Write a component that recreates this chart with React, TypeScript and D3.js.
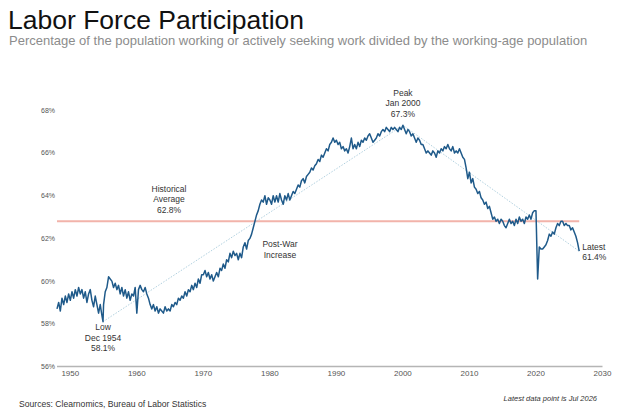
import React from 'react'
import * as d3 from 'd3'

// quarterly readings (Jan, Apr, Jul, Oct), participation rate in %
const q1940s = [58.7, 59.0, 58.6, 59.2, 58.9, 59.3, 59.0, 59.4]
const q1950s = [
  59.1, 59.5, 59.2, 59.6, 59.3, 59.7, 59.4, 59.6, 59.2, 59.5,
  59.0, 59.4, 59.6, 59.1, 58.8, 59.3, 58.9, 58.5, 58.9, 58.4,
  58.9, 59.5, 59.7, 60.2, 60.1, 60.0, 59.7, 59.9, 59.6, 59.8,
  59.4, 59.7, 59.3, 59.6, 59.2, 59.5, 59.1, 59.4, 59.3, 59.7,
]
const q1960s = [
  58.5, 59.6, 59.8, 59.6, 59.5, 59.7, 59.4, 59.2, 58.9, 58.7,
  58.9, 58.6, 58.8, 58.5, 58.7, 58.6, 58.5, 58.8, 58.6, 58.7,
  58.6, 58.9, 58.8, 59.0, 58.9, 59.2, 59.1, 59.3, 59.2, 59.5,
  59.3, 59.6, 59.5, 59.8, 59.6, 59.9, 59.7, 60.1, 59.9, 60.3,
]
const q1970s = [
  60.3, 60.5, 60.2, 60.4, 60.1, 60.3, 60.0, 60.2, 60.4, 60.2,
  60.6, 60.5, 60.8, 60.6, 61.0, 60.9, 61.3, 61.1, 61.4, 61.2,
  61.3, 61.0, 61.3, 61.1, 61.6, 61.8, 61.5, 61.9, 62.0, 62.2,
  62.5, 62.8, 63.1, 63.3, 63.6, 63.8, 63.7, 64.0, 63.6, 63.9,
]
const q1980s = [
  63.8, 63.6, 64.0, 63.7, 64.0, 63.7, 64.1, 63.8, 63.6, 64.0,
  63.8, 64.1, 63.8, 64.0, 64.2, 64.1, 64.3, 64.5, 64.4, 64.7,
  64.8, 64.6, 64.9, 65.0, 65.1, 65.3, 65.2, 65.4, 65.5, 65.7,
  65.6, 65.9, 65.8, 66.0, 66.2, 66.1, 66.4, 66.5, 66.7, 66.5,
]
const q1990s = [
  66.6, 66.4, 66.5, 66.2, 66.3, 66.1, 66.2, 66.0, 66.3, 66.7,
  66.2, 66.4, 66.2, 66.5, 66.3, 66.6, 66.5, 66.7, 66.6, 66.8,
  66.9, 66.7, 66.5, 66.6, 66.7, 66.9, 66.8, 67.0, 67.1, 67.0,
  67.2, 67.1, 67.0, 67.2, 67.1, 67.2, 67.1, 67.0, 67.2, 67.1,
]
const q2000s = [
  67.3, 67.1, 66.9, 67.1, 67.0, 66.8, 66.9, 66.7, 66.5, 66.7,
  66.6, 66.4, 66.4, 66.2, 66.0, 66.1, 66.0, 65.9, 66.1, 66.0,
  65.8, 66.1, 66.0, 66.2, 66.1, 66.3, 66.2, 66.4, 66.2, 66.1,
  66.3, 66.0, 66.1, 66.0, 66.2, 66.0, 65.8, 65.7, 65.3, 64.8,
]
const q2010s = [
  65.1, 64.6, 64.8, 64.4, 64.3, 64.1, 64.2, 63.9, 63.8, 63.6,
  63.7, 63.4, 63.5, 63.2, 62.9, 63.0, 62.8, 62.9, 62.7, 62.9,
  62.8, 62.6, 62.5, 62.7, 62.9, 62.7, 62.8, 62.6, 62.9, 62.7,
  63.0, 62.8, 62.9, 62.7, 63.0, 62.9, 63.1, 62.9, 63.2, 63.3,
]
const q2020s = [
  63.3, 60.1, 61.6, 61.5, 61.5, 61.6, 61.7, 61.9, 62.2, 62.1,
  62.3, 62.2, 62.5, 62.7, 62.6, 62.8, 62.8, 62.6, 62.7, 62.6,
  62.6, 62.4, 62.5, 62.3, 62.1, 61.8, 61.4,
]

const startYear = 1948
const average = 62.8
const lowPoint = { t: 1954 + 11 / 12, v: 58.1 }
const peakPoint = { t: 2000, v: 67.3 }
const latestPoint = { t: 2026.5, v: 61.4 }
const yearTicks = [1950, 1960, 1970, 1980, 1990, 2000, 2010, 2020, 2030]
const pctTicks = [56, 58, 60, 62, 64, 66, 68]

const W = 624
const H = 416

const App = () => {
  const ref = React.useRef<SVGSVGElement | null>(null)

  React.useEffect(() => {
    const values = [...q1940s, ...q1950s, ...q1960s, ...q1970s, ...q1980s, ...q1990s, ...q2000s, ...q2010s, ...q2020s]
    const series = values.map((v, i) => ({ t: startYear + i / 4, v }))
    series.push(lowPoint)
    series.sort((a, b) => a.t - b.t)

    const x = d3.scaleLinear().domain([1948, 2030]).range([57, 602.5])
    const y = d3.scaleLinear().domain([56, 68]).range([366.5, 110.3])

    const svg = d3.select(ref.current)
    svg.selectAll('*').remove()

    const font = "'Liberation Sans', Arial, sans-serif"

    // title block
    svg.append('text').attr('x', 8).attr('y', 29)
      .attr('font-family', font).attr('font-size', 26.5).attr('fill', '#111')
      .text('Labor Force Participation')
    svg.append('text').attr('x', 9).attr('y', 45)
      .attr('font-family', font).attr('font-size', 13).attr('fill', '#8c8c8c')
      .text('Percentage of the population working or actively seeking work divided by the working-age population')

    // y labels
    svg.append('g').selectAll('text').data(pctTicks).enter().append('text')
      .attr('x', 55).attr('y', (d) => y(d) + 2.4)
      .attr('text-anchor', 'end')
      .attr('font-family', font).attr('font-size', 7).attr('fill', '#555')
      .text((d) => d + '%')

    // x axis line + labels
    svg.append('line')
      .attr('x1', x(1948)).attr('x2', x(2030)).attr('y1', y(56)).attr('y2', y(56))
      .attr('stroke', '#b5b5b5').attr('stroke-width', 1.5)
    svg.append('g').selectAll('text').data(yearTicks).enter().append('text')
      .attr('x', (d) => x(d)).attr('y', 376)
      .attr('text-anchor', 'middle')
      .attr('font-family', font).attr('font-size', 8).attr('fill', '#555')
      .text((d) => d)

    // average
    svg.append('line')
      .attr('x1', x(1948)).attr('x2', x(latestPoint.t)).attr('y1', y(average)).attr('y2', y(average))
      .attr('stroke', '#f2b3aa').attr('stroke-width', 2)

    // trend dotted lines low -> peak -> latest
    const trend = d3.line<{ t: number; v: number }>().x((d) => x(d.t)).y((d) => y(d.v))
    svg.append('path')
      .attr('d', trend([lowPoint, peakPoint, latestPoint]))
      .attr('fill', 'none').attr('stroke', '#9dc4d6').attr('stroke-width', 0.8)
      .attr('stroke-dasharray', '1.5,1.5')

    // main series
    svg.append('path')
      .attr('d', trend(series))
      .attr('fill', 'none').attr('stroke', '#1f5a8a').attr('stroke-width', 1.5)
      .attr('stroke-linejoin', 'round')

    // annotations
    const note = (lines: string[], cx: number, top: number, anchor = 'middle') => {
      const t = svg.append('text')
        .attr('font-family', font).attr('font-size', 8.5).attr('fill', '#333')
        .attr('text-anchor', anchor)
      lines.forEach((l, i) => {
        t.append('tspan').attr('x', cx).attr('y', top + i * 10.7).text(l)
      })
    }
    note(['Peak', 'Jan 2000', peakPoint.v.toFixed(1) + '%'], x(peakPoint.t), 95.5)
    note(['Historical', 'Average', average.toFixed(1) + '%'], 169, 191.7)
    note(['Low', 'Dec 1954', lowPoint.v.toFixed(1) + '%'], x(lowPoint.t), 330)
    note(['Post-War', 'Increase'], 280, 247.3)
    note(['Latest', latestPoint.v.toFixed(1) + '%'], x(latestPoint.t) + 3, 249.5, 'start')

    // footer
    svg.append('text').attr('x', 19).attr('y', 407)
      .attr('font-family', font).attr('font-size', 8.6).attr('fill', '#333')
      .text('Sources: Clearnomics, Bureau of Labor Statistics')
    svg.append('text').attr('x', 597).attr('y', 401).attr('text-anchor', 'end')
      .attr('font-family', font).attr('font-size', 7.5).attr('font-style', 'italic').attr('fill', '#333')
      .text('Latest data point is Jul 2026')
  }, [])

  return (
    <svg ref={ref} width={W} height={H} style={{ position: 'absolute', left: 0, top: 0, background: '#fff' }}></svg>
  )
}

export default App
